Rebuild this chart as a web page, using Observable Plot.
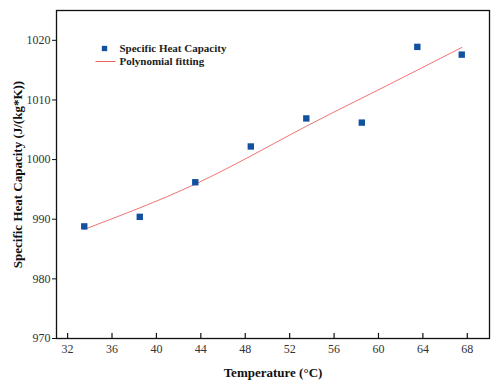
<!DOCTYPE html>
<html>
<head>
<meta charset="utf-8">
<script src="https://cdn.jsdelivr.net/npm/d3@7"></script>
<script src="https://cdn.jsdelivr.net/npm/@observablehq/plot@0.6"></script>
<style>
  html, body { margin: 0; padding: 0; background: #fff; }
  #chart { width: 500px; height: 389px; }
  #chart svg text { font-family: "Liberation Serif", "Times New Roman", serif; }
</style>
</head>
<body>
<div id="chart"></div>
<script>
const temperature = [33.5, 38.5, 43.5, 48.5, 53.5, 58.5, 63.5, 67.5];
const heatCapacity = [988.8, 990.4, 996.2, 1002.2, 1006.9, 1006.2, 1018.9, 1017.6];

// Polynomial fitting curve
const fitTemperature = [33.5, 38.5, 43.5, 48.5, 53.5, 58.5, 63.5, 67.5];
const fitValue = [988.3, 991.9, 995.9, 1000.6, 1005.6, 1010.3, 1015.0, 1018.8];

// Tick labels
const xTicks = [32, 36, 40, 44, 48, 52, 56, 60, 64, 68];
const yTicks = [970, 980, 990, 1000, 1010, 1020];

const legendLabels = ["Specific Heat Capacity", "Polynomial fitting"];
const xTitle = "Temperature (\u00B0C)";
const yTitle = "Specific Heat Capacity (J/(kg*K))";

const points = temperature.map((t, i) => ({t, c: heatCapacity[i]}));
const fit = fitTemperature.map((t, i) => ({t, c: fitValue[i]}));

const blue = "#11519f";
const red = "#e8504e";
const font = "Liberation Serif";

const hLine = {
  draw(context) {
    context.moveTo(-10, 0);
    context.lineTo(10, 0);
  }
};

const plot = Plot.plot({
  width: 500,
  height: 389,
  marginLeft: 56,
  marginRight: 11,
  marginTop: 10,
  marginBottom: 51,
  style: {fontFamily: font, fontSize: "12px", color: "#222", background: "#fff"},
  x: {domain: [31, 70]},
  y: {domain: [970, 1025]},
  marks: [
    Plot.axisX({ticks: xTicks, tickSize: 0, tickPadding: 6, label: null, fontSize: 12, fontFamily: font, fill: "#333", tickFormat: d => String(d)}),
    Plot.ruleX(xTicks, {x: d => d, y1: 970, y2: 970.85, stroke: "#111", strokeWidth: 1.2}),
    Plot.axisY({ticks: yTicks, tickSize: 4, tickPadding: 2, label: null, fontSize: 12, fontFamily: font, fill: "#333", tickFormat: d => String(d), stroke: "#111"}),
    Plot.frame({stroke: "#111", strokeWidth: 1.3}),
    Plot.line(fit, {x: "t", y: "c", stroke: red, strokeWidth: 0.8, curve: "natural"}),
    Plot.dot(points, {x: "t", y: "c", symbol: "square", r: 3.6, fill: blue, stroke: "none"}),
    // legend
    Plot.dot([legendLabels[0]], {frameAnchor: "top-left", dx: 48, dy: 38, symbol: "square", r: 3, fill: blue, stroke: "none"}),
    Plot.dot([legendLabels[1]], {frameAnchor: "top-left", dx: 49, dy: 51, symbol: hLine, stroke: red, fill: "none", strokeWidth: 0.9}),
    Plot.text([legendLabels[0]], {text: d => d, frameAnchor: "top-left", dx: 63, dy: 38, textAnchor: "start", lineAnchor: "middle", fontWeight: "bold", fontSize: 11, fontFamily: font, fill: "#222"}),
    Plot.text([legendLabels[1]], {text: d => d, frameAnchor: "top-left", dx: 63, dy: 51, textAnchor: "start", lineAnchor: "middle", fontWeight: "bold", fontSize: 11, fontFamily: font, fill: "#222"}),
    // axis titles
    Plot.text([xTitle], {text: d => d, frameAnchor: "bottom", dy: 34, textAnchor: "middle", lineAnchor: "middle", fontWeight: "bold", fontSize: 13, fontFamily: font, fill: "#111"}),
    Plot.text([yTitle], {text: d => d, frameAnchor: "left", dx: -39, rotate: -90, textAnchor: "middle", lineAnchor: "middle", fontWeight: "bold", fontSize: 13, fontFamily: font, fill: "#111"})
  ]
});

document.getElementById("chart").appendChild(plot);
</script>
</body>
</html>
